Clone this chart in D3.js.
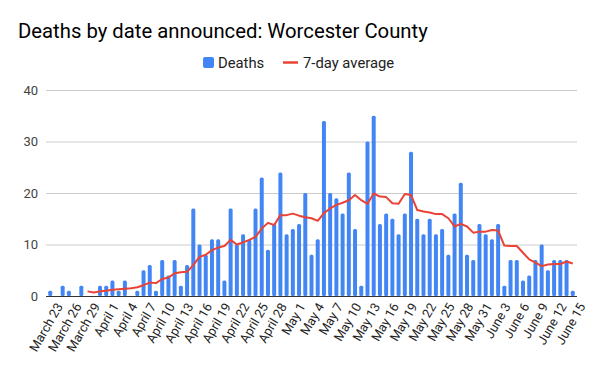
<!DOCTYPE html>
<html><head><meta charset="utf-8">
<script src="https://cdn.jsdelivr.net/npm/d3@7/dist/d3.min.js"></script>
<style>body{margin:0;background:#fff}svg{display:block;font-family:Roboto,Arial,sans-serif}</style>
</head><body><svg id="c" width="596" height="368"></svg>
<script>
const dates = [
"March 23","March 24","March 25","March 26","March 27","March 28","March 29","March 30","March 31",
"April 1","April 2","April 3","April 4","April 5","April 6","April 7","April 8","April 9","April 10",
"April 11","April 12","April 13","April 14","April 15","April 16","April 17","April 18","April 19","April 20",
"April 21","April 22","April 23","April 24","April 25","April 26","April 27","April 28","April 29","April 30",
"May 1","May 2","May 3","May 4","May 5","May 6","May 7","May 8","May 9","May 10",
"May 11","May 12","May 13","May 14","May 15","May 16","May 17","May 18","May 19","May 20",
"May 21","May 22","May 23","May 24","May 25","May 26","May 27","May 28","May 29","May 30","May 31",
"June 1","June 2","June 3","June 4","June 5","June 6","June 7","June 8","June 9","June 10",
"June 11","June 12","June 13","June 14","June 15"];
const deaths = [
1,0,2,1,0,2,0,0,2,
2,3,1,3,0,1,5,6,1,7,
4,7,2,6,17,10,8,11,11,3,
17,10,12,11,17,23,9,14,24,12,
13,14,20,8,11,34,20,19,16,24,
13,2,30,35,14,16,15,12,16,28,
15,12,15,12,13,8,16,22,8,7,14,
12,11,14,2,7,7,3,4,7,10,
5,7,7,7,1];
const avg7 = [
null,null,null,null,null,null,0.9,0.7,0.9,
1.0,1.2,1.3,1.4,1.5,1.7,2.1,2.6,2.5,3.3,
3.6,4.4,4.6,4.7,6.0,7.6,8.0,8.9,9.4,9.7,
10.9,10.0,10.4,10.9,11.5,13.1,14.2,13.8,15.7,15.7,
16.0,15.6,15.3,15.1,14.6,16.1,17.0,17.7,18.1,18.6,
19.6,18.6,17.9,19.9,19.3,19.2,18.0,17.9,19.8,19.6,
16.7,16.4,16.2,15.9,15.9,15.1,13.5,14.0,13.5,12.3,12.5,
12.5,12.8,12.7,9.8,9.7,9.7,8.4,7.1,6.5,5.8,
6.1,6.2,6.2,6.7,6.3];
const yTicks = [0,10,20,30,40];
const title = "Deaths by date announced: Worcester County";
const seriesNames = ["Deaths","7-day average"];

const svg = d3.select("#c");
const pL=46, pR=577, pT=90, pB=296;
const x = d3.scaleBand().domain(dates).range([pL,pR]).padding(0.36);
const y = d3.scaleLinear().domain([0,40]).range([pB,pT]);

svg.append("text").attr("x",18).attr("y",38).attr("font-size",20.3).attr("fill","#000").text(title);

// legend
const lg = svg.append("g");
lg.append("rect").attr("x",203).attr("y",57).attr("width",11).attr("height",11).attr("rx",2).attr("fill","#4285f4");
lg.append("text").attr("x",218).attr("y",68).attr("font-size",14.8).attr("fill","#222").text(seriesNames[0]);
lg.append("line").attr("x1",283).attr("x2",298).attr("y1",62.5).attr("y2",62.5).attr("stroke","#ea4335").attr("stroke-width",2.5);
lg.append("text").attr("x",303).attr("y",68).attr("font-size",14.8).attr("fill","#222").text(seriesNames[1]);

// grid + y axis
const ya = d3.axisLeft(y).tickValues(yTicks).tickSize(-(pR-pL)).tickPadding(8);
const yg = svg.append("g").attr("transform",`translate(${pL},0)`).call(ya);
yg.select(".domain").remove();
yg.selectAll(".tick line").attr("stroke","#cccccc");
yg.selectAll(".tick text").attr("font-size",13).attr("fill","#444").attr("font-family","Roboto,Arial,sans-serif");

// bars
svg.append("g").selectAll("rect").data(deaths).join("rect")
  .attr("x",(d,i)=>x(dates[i])).attr("width",x.bandwidth())
  .attr("y",d=>y(d)).attr("height",d=>pB-y(d))
  .attr("rx",1.5).attr("fill","#4285f4");

// baseline
svg.append("line").attr("x1",pL).attr("x2",pR).attr("y1",pB+0.5).attr("y2",pB+0.5).attr("stroke","#333").attr("stroke-width",1);

// line
const line = d3.line().defined(d=>d!=null).x((d,i)=>x(dates[i])+x.bandwidth()/2).y(d=>y(d));
svg.append("path").datum(avg7).attr("d",line).attr("fill","none").attr("stroke","#ea4335").attr("stroke-width",2).attr("stroke-linejoin","round");

// x axis labels (every 3rd)
const xa = d3.axisBottom(x).tickValues(dates.filter((d,i)=>i%3===0)).tickSize(0).tickPadding(6);
const xg = svg.append("g").attr("transform",`translate(0,${pB})`).call(xa);
xg.select(".domain").remove();
xg.selectAll(".tick text").attr("font-size",12.8).attr("fill","#222").attr("font-family","Roboto,Arial,sans-serif")
  .attr("text-anchor","end").attr("dy","0.35em")
  .attr("transform","translate(4,5) rotate(-60)");
</script></body></html>
